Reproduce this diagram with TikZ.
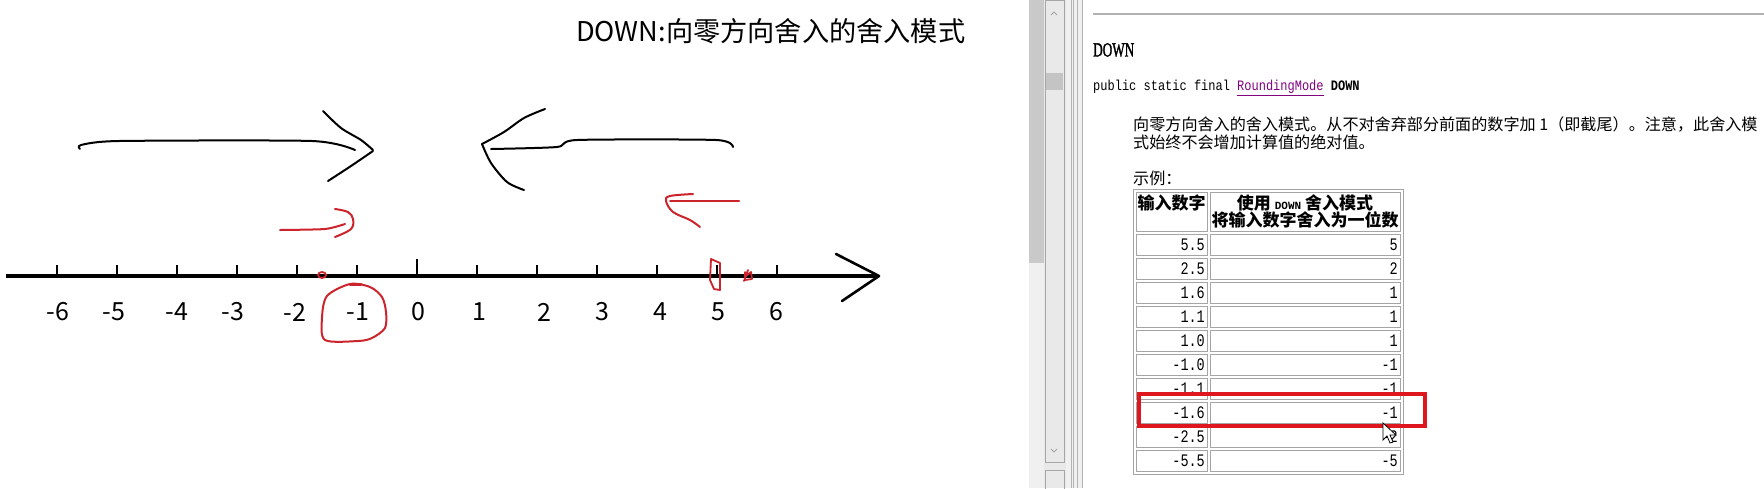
\documentclass[tikz,border=0pt]{standalone}
\usepackage{fontspec}
\usepackage{graphicx}
\newfontfamily\cjk{Noto Sans CJK SC}
\newfontfamily\monofont{Liberation Mono}
\newfontfamily\serifb[FakeBold=2]{Liberation Serif}
\definecolor{pen}{RGB}{204,36,44}
\definecolor{boxred}{RGB}{222,22,30}
\definecolor{linkpurple}{RGB}{128,0,128}
\definecolor{cellgray}{RGB}{165,165,165}
\definecolor{stripdark}{RGB}{201,201,201}
\definecolor{striplight}{RGB}{240,240,240}
\definecolor{sbbg}{RGB}{233,233,233}
\definecolor{sbthumb}{RGB}{196,196,196}
\begin{document}
\begin{tikzpicture}[x=1pt,y=-1pt,
  ink/.style={line width=2pt,line cap=round,line join=round},
  redink/.style={line width=2pt,line cap=round,line join=round,pen},
  axisline/.style={line width=3.5pt},
  tickline/.style={line width=2.6pt},
  num/.style={font=\cjk\fontsize{25}{30}\selectfont,inner sep=0pt},
  cell/.style={draw=cellgray,line width=1pt},
  celltext/.style={font=\monofont\fontsize{13.5}{15}\selectfont,inner sep=0pt,anchor=east},
  cjktext/.style={font=\cjk\fontsize{16.1}{18}\selectfont,inner sep=0pt,anchor=west},
  headtext/.style={font=\cjk\bfseries\fontsize{17}{20}\selectfont,inner sep=0pt}
]
\useasboundingbox (0,0) rectangle (1764,488);
\fill[white] (0,0) rectangle (1764,488);

% ---------------- left drawing ----------------
\node[anchor=west,inner sep=0pt,font=\cjk\fontsize{27.2}{32}\selectfont] (title) at (576,31) {DOWN:向零方向舍入的舍入模式};

% number line
\coordinate (axL) at (6,276);
\coordinate (axR) at (877,276);
\draw[axisline] (axL) -- (axR);
\coordinate (ahT) at (836,254);
\coordinate (ahB) at (842,301);
\coordinate (ahTip) at (879,276);
\draw[ink,line width=2.6pt] (ahT) -- (ahTip) -- (ahB);
\foreach \i in {-6,-5,-4,-3,-2,-1,1,2,3,4,5,6}{
  \draw[tickline] ({417+60*\i},265) -- ({417+60*\i},276);
}
\draw[tickline] (417,259) -- (417,276);
\foreach \v/\x in {-6/58,-5/114,-4/177,-3/233,-2/295,-1/358,0/418,1/479,2/544,3/602,4/660,5/718,6/776}{
  \node[num] (n\v) at (\x,312) {\v};
}

% big black arrows
\draw[ink] plot[smooth,tension=0.4] coordinates {(80,149) (81,145) (119,141) (312,141) (355,150)};
\draw[ink] plot[smooth,tension=0.5] coordinates {(323,111) (341,128) (361,140) (373,150)};
\draw[ink] plot[smooth,tension=0.5] coordinates {(373,151) (351,166) (328,181)};

\draw[ink] plot[smooth,tension=0.5] coordinates {(545,109) (524,118) (504,132) (482,144)};
\draw[ink] plot[smooth,tension=0.5] coordinates {(482,144) (491,163) (507,182) (524,190)};
\draw[ink] plot[smooth,tension=0.4] coordinates {(491,149) (557,147) (577,140) (716,140) (733,147)};

% red pen marks
\draw[redink] plot[smooth,tension=0.4] coordinates {(280,230) (325,229) (345,224)};
\draw[redink] plot[smooth,tension=0.6] coordinates {(335,209) (348,212) (353,219) (351,229) (335,237)};

\draw[redink] (670,201) -- (739,201);
\draw[redink] plot[smooth,tension=0.6] coordinates {(693,194) (670,196) (666,201) (673,212) (690,220) (700,227)};

\draw[redink] plot[smooth cycle,tension=0.5] coordinates {(350,284) (370,287) (382,297) (386,312) (385,328) (372,338) (358,341) (325,340) (322,318) (327,296)};
\draw[pen,line width=3pt,line cap=round] (350,284) -- (361,284);

\draw[redink,line width=1.8pt] (322,275) ellipse (4pt and 3pt);
\draw[redink,line width=1.8pt] (711,259) -- (720,263) -- (720,290) -- (714,289) -- (710,280) -- cycle;
\draw[redink,line width=1.8pt] (745,272) -- (745,280) -- (752,279) -- (751,272) -- (746,276) (748,270) -- (744,281);

% ---------------- window chrome ----------------
\fill[stripdark] (1029,0) rectangle (1044,263);
\fill[striplight] (1029,263) rectangle (1044,488);
\fill[sbbg] (1044,0) rectangle (1066,488);
\draw[gray!70,line width=1pt] (1045,0) rectangle (1064,462);
\fill[sbthumb] (1046,73) rectangle (1063,90);
\draw[gray!70,line width=1pt] (1051,15) -- (1054,12) -- (1057,15);
\draw[gray!70,line width=1pt] (1051,449) -- (1054,452) -- (1057,449);
\draw[gray!70,line width=1pt] (1045,470) rectangle (1064,490);
\fill[striplight] (1066,0) rectangle (1083,488);
\foreach \x in {1071,1073,1077,1082}{
  \draw[gray!60,line width=0.8pt] (\x,0) -- (\x,488);
}
\draw[gray!60,line width=1.5pt] (1093,14) -- (1764,14);

% ---------------- javadoc text ----------------
\node[anchor=west,inner sep=0pt] (hd) at (1093,50) {\serifb\fontsize{20}{22}\selectfont\scalebox{0.66}[1]{DOWN}};
\node[anchor=west,inner sep=0pt] (sig) at (1093,88) {\monofont\fontsize{12}{14}\selectfont\scalebox{1}[1.2]{public static final \textcolor{linkpurple}{\underline{RoundingMode}} \textbf{DOWN}}};
\node[cjktext] (p1) at (1133,124) {向零方向舍入的舍入模式。从不对舍弃部分前面的数字加 1（即截尾）。注意，此舍入模};
\node[cjktext] (p2) at (1133,142) {式始终不会增加计算值的绝对值。};
\node[cjktext] (ex) at (1133,178) {示例：};

% table
\draw[cell] (1133,189) rectangle (1403,474);
\draw[cell] (1136,192) rectangle (1207,231);
\draw[cell] (1210,192) rectangle (1400,231);
\node[headtext] (h1) at (1171.5,203) {输入数字};
\node[headtext] (h2a) at (1305,203) {使用 {\monofont\bfseries\fontsize{11}{12}\selectfont DOWN} 舍入模式};
\node[headtext] (h2b) at (1305,220) {将输入数字舍入为一位数};
\foreach \a/\b [count=\k from 0] in {5.5/5,2.5/2,1.6/1,1.1/1,1.0/1,-1.0/-1,-1.1/-1,-1.6/-1,-2.5/-2,-5.5/-5}{
  \draw[cell] (1136,{234+24*\k}) rectangle (1207,{255+24*\k});
  \draw[cell] (1210,{234+24*\k}) rectangle (1400,{255+24*\k});
  \node[celltext] (a\k) at (1205,{245+24*\k}) {\scalebox{1}[1.3]{\a}};
  \node[celltext] (b\k) at (1398,{245+24*\k}) {\scalebox{1}[1.3]{\b}};
}

% highlight box and cursor
\draw[boxred,line width=4pt] (1139,394) rectangle (1425,426);
\draw[black,fill=white,line width=0.8pt,line join=miter] (1383,423) -- (1383,440) -- (1387,436) -- (1390,443) -- (1393,442) -- (1390,435) -- (1396,435) -- cycle;
\end{tikzpicture}
\end{document}
